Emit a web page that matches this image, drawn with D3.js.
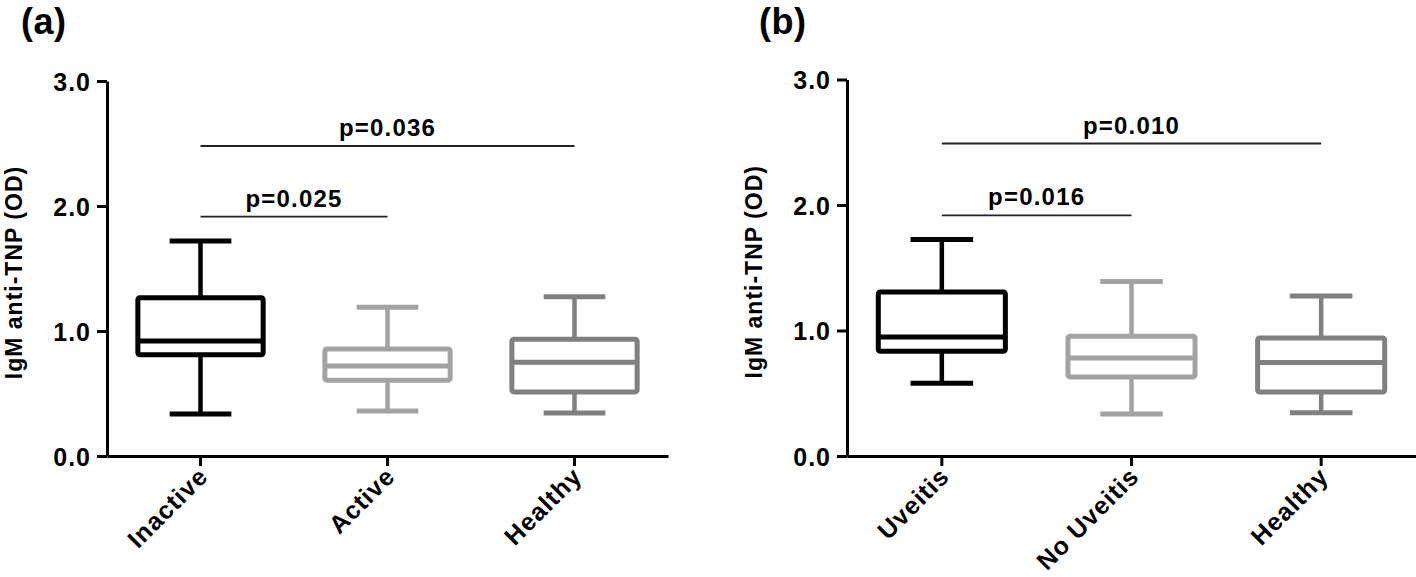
<!DOCTYPE html>
<html><head><meta charset="utf-8">
<script src="https://cdn.jsdelivr.net/npm/d3@7"></script>
<style>
html,body{margin:0;padding:0;background:#fff;}
svg text{font-family:"Liberation Sans",Arial,Helvetica,sans-serif;font-weight:bold;fill:#000;}
</style></head>
<body><svg id="chart" width="1416" height="577"></svg>
<script>
// ---- data ----
const categoriesA = ["Inactive", "Active", "Healthy"];
const categoriesB = ["Uveitis", "No Uveitis", "Healthy"];
// [whisker low, Q1, median, Q3, whisker high]
const boxesA = [
  [0.336, 0.81, 0.92, 1.266, 1.72],
  [0.36, 0.607, 0.72, 0.856, 1.19],
  [0.344, 0.513, 0.75, 0.935, 1.274]
];
const boxesB = [
  [0.58, 0.835, 0.949, 1.307, 1.726],
  [0.334, 0.63, 0.78, 0.955, 1.39],
  [0.345, 0.51, 0.745, 0.94, 1.275]
];
const yTicks = [0, 1, 2, 3];
const boxColors = ["#000000", "#a3a3a3", "#808080"];
// significance brackets: [from index, to index, height, label]
const sigA = [[0, 1, 1.915, "p=0.025"], [0, 2, 2.48, "p=0.036"]];
const sigB = [[0, 1, 1.917, "p=0.016"], [0, 2, 2.49, "p=0.010"]];
const panelLabels = ["(a)", "(b)"];
const yLabel = "IgM anti-TNP (OD)";

const svg = d3.select("#chart");

function panel(cfg) {
  const g = svg.append("g");
  const x = d3.scaleBand().domain(cfg.cats).range([cfg.left, cfg.right]).padding(0);
  const y = d3.scaleLinear().domain([0, 3]).range([cfg.bottom, cfg.top]);
  const bw = x.bandwidth();

  // y axis
  const ya = g.append("g").attr("transform", `translate(${cfg.left},0)`)
    .call(d3.axisLeft(y).tickValues(yTicks).tickFormat(d3.format(".1f")).tickSize(10).tickSizeOuter(0).tickPadding(6));
  ya.select(".domain").attr("stroke", "#000").attr("stroke-width", 3);
  ya.selectAll(".tick line").attr("stroke", "#000").attr("stroke-width", 3);
  ya.selectAll(".tick text").style("font-size", "25px").style("letter-spacing", "1px").attr("dy", "0.36em");

  // x axis
  const xa = g.append("g").attr("transform", `translate(0,${cfg.bottom})`)
    .call(d3.axisBottom(x).tickSize(10).tickSizeOuter(0).tickPadding(0));
  xa.select(".domain").attr("stroke", "#000").attr("stroke-width", 3);
  xa.selectAll(".tick line").attr("stroke", "#000").attr("stroke-width", 3);
  xa.selectAll(".tick text").style("font-size", "25px").style("letter-spacing", "1px")
    .attr("text-anchor", "end").attr("dy", null).attr("y", null)
    .attr("transform", "translate(9,22) rotate(-45)");

  // y label
  g.append("text").attr("transform", `translate(${cfg.ylabX},${(cfg.top + cfg.bottom) / 2 + 4}) rotate(-90)`)
    .attr("text-anchor", "middle").style("font-size", "23px").style("letter-spacing", "1px").text(yLabel);

  // panel label
  g.append("text").attr("x", cfg.plX).attr("y", 34).style("font-size", "36px").style("letter-spacing", "0.5px").text(cfg.pl);

  // boxes
  cfg.boxes.forEach((b, i) => {
    const cx = x(cfg.cats[i]) + bw / 2;
    const col = boxColors[i];
    const bg = g.append("g").attr("stroke", col).attr("fill", "none").attr("stroke-linejoin", "round");
    const half = bw * 0.335, capHalf = bw * 0.165;
    bg.append("line").attr("x1", cx).attr("x2", cx).attr("y1", y(b[3])).attr("y2", y(b[4])).attr("stroke-width", 4.5);
    bg.append("line").attr("x1", cx).attr("x2", cx).attr("y1", y(b[0])).attr("y2", y(b[1])).attr("stroke-width", 4.5);
    bg.append("line").attr("x1", cx - capHalf).attr("x2", cx + capHalf).attr("y1", y(b[4])).attr("y2", y(b[4])).attr("stroke-width", 5);
    bg.append("line").attr("x1", cx - capHalf).attr("x2", cx + capHalf).attr("y1", y(b[0])).attr("y2", y(b[0])).attr("stroke-width", 5);
    bg.append("rect").attr("x", cx - half).attr("width", half * 2).attr("y", y(b[3])).attr("height", y(b[1]) - y(b[3]))
      .attr("rx", 2).attr("stroke-width", 5).attr("fill", "#fff");
    bg.append("line").attr("x1", cx - half).attr("x2", cx + half).attr("y1", y(b[2])).attr("y2", y(b[2])).attr("stroke-width", 5);
  });

  // significance
  cfg.sig.forEach(s => {
    const x1 = x(cfg.cats[s[0]]) + bw / 2, x2 = x(cfg.cats[s[1]]) + bw / 2;
    g.append("line").attr("x1", x1).attr("x2", x2).attr("y1", y(s[2])).attr("y2", y(s[2]))
      .attr("stroke", "#222").attr("stroke-width", 1.8);
    g.append("text").attr("x", (x1 + x2) / 2).attr("y", y(s[2]) - 10).attr("text-anchor", "middle")
      .style("font-size", "24px").style("letter-spacing", "1.2px").text(s[3]);
  });
}

panel({cats: categoriesA, boxes: boxesA, sig: sigA, left: 107, right: 668, top: 81, bottom: 456, ylabX: 22, plX: 21, pl: panelLabels[0]});
panel({cats: categoriesB, boxes: boxesB, sig: sigB, left: 847, right: 1416, top: 79.5, bottom: 456, ylabX: 762, plX: 759, pl: panelLabels[1]});
</script></body></html>
